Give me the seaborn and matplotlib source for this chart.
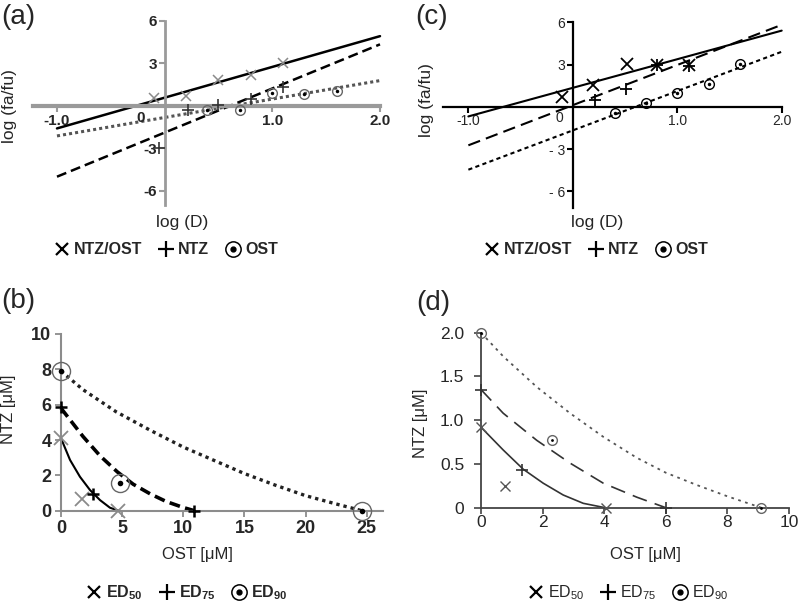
import matplotlib
matplotlib.use("Agg")
import matplotlib.pyplot as plt
import seaborn as sns
from matplotlib.lines import Line2D
from matplotlib.legend_handler import HandlerTuple

sns.set_theme(style="ticks")
plt.rcParams['font.family'] = ['Liberation Sans', 'DejaVu Sans']
plt.rcParams['mathtext.fontset'] = 'custom'
plt.rcParams['mathtext.rm'] = 'Liberation Sans'
plt.rcParams['mathtext.bf'] = 'Liberation Sans:bold'

# (a) median-effect plot, first set: fitted line ends and data points
a_fit_x = [-1.0, 2.0]
a_fit_combo = [-1.59, 4.93]
a_fit_ntz = [-5.0, 4.35]
a_fit_ost = [-2.12, 1.79]
a_combo_x = [-0.10, 0.20, 0.50, 0.80, 1.10]
a_combo_y = [0.53, 0.71, 1.84, 2.19, 3.05]
a_ntz_x = [-0.05, 0.22, 0.50, 0.80, 1.10]
a_ntz_y = [-3.0, -0.31, 0.05, 0.48, 1.36]
a_ost_x = [0.39, 0.70, 1.00, 1.29, 1.60]
a_ost_y = [-0.31, -0.31, 0.89, 0.86, 1.07]

# (c) median-effect plot, second set
c_fit_x = [-1.0, 2.0]
c_fit_combo = [-0.68, 5.41]
c_fit_ntz = [-2.73, 5.82]
c_fit_ost = [-4.46, 3.91]
c_combo_x = [-0.10, 0.19, 0.52, 0.81, 1.11]
c_combo_y = [0.69, 1.55, 3.01, 3.0, 3.0]
c_ntz_x = [0.21, 0.51, 0.81, 1.11]
c_ntz_y = [0.47, 1.28, 2.95, 2.9]
c_ost_x = [0.40, 0.70, 1.00, 1.30, 1.60]
c_ost_y = [-0.46, 0.30, 0.97, 1.62, 3.01]

# (b) isobologram, first set
b_ed50_x = [0.0, 1.7, 4.7]
b_ed50_y = [4.1, 0.66, 0.0]
b_ed75_x = [0.0, 2.6, 10.9]
b_ed75_y = [5.85, 0.95, 0.0]
b_ed90_x = [0.0, 4.8, 24.6]
b_ed90_y = [7.92, 1.55, 0.0]
b_curve50_x = [0.0, 0.74, 1.55, 2.37, 3.19, 4.0, 4.7]
b_curve50_y = [4.1, 2.87, 1.92, 1.17, 0.6, 0.17, 0.0]
b_curve75_x = [0.0, 1.8, 3.2, 4.6, 5.9, 7.3, 8.6, 10.0, 10.9]
b_curve75_y = [5.8, 4.2, 3.1, 2.2, 1.5, 0.95, 0.52, 0.18, 0.0]
b_curve90_x = [0.0, 1.8, 4.5, 7.3, 10.0, 12.5, 15.0, 17.5, 20.0, 22.5, 24.6]
b_curve90_y = [7.9, 6.85, 5.6, 4.55, 3.6, 2.85, 2.1, 1.45, 0.85, 0.38, 0.0]

# (d) isobologram, second set
d_ed50_x = [0.0, 0.78, 4.05]
d_ed50_y = [0.92, 0.25, 0.0]
d_ed75_x = [0.0, 1.32, 6.0]
d_ed75_y = [1.35, 0.43, 0.0]
d_ed90_x = [0.0, 2.30, 9.1]
d_ed90_y = [2.0, 0.77, 0.0]
d_curve50_x = [0.0, 0.72, 1.37, 2.02, 2.67, 3.32, 4.03]
d_curve50_y = [0.92, 0.66, 0.44, 0.28, 0.145, 0.05, 0.0]
d_curve75_x = [0.0, 0.72, 1.81, 2.89, 3.97, 5.06, 6.0]
d_curve75_y = [1.35, 1.08, 0.77, 0.51, 0.28, 0.12, 0.0]
d_curve90_x = [0.0, 0.72, 1.81, 2.89, 3.97, 5.06, 6.0, 7.0, 8.0, 9.1]
d_curve90_y = [2.0, 1.73, 1.38, 1.08, 0.81, 0.57, 0.4, 0.26, 0.13, 0.0]

W, H = 800, 603
fig = plt.figure(figsize=(W / 100, H / 100), dpi=100)


def px(x, y):
    return (x / W, 1 - y / H)


def box(x0, y0, x1, y1):
    return [x0 / W, 1 - y1 / H, (x1 - x0) / W, (y1 - y0) / H]


def line(ax, x, y, color, lw, ls):
    sns.lineplot(x=x, y=y, ax=ax, color=color, linewidth=lw, linestyle=ls,
                 estimator=None, sort=False, clip_on=False)


def ring_dot(ax, x, y, size, ring, dot):
    ax.plot(x, y, ls='none', marker='o', ms=size, mfc='none', mec=ring,
            mew=1.0, clip_on=False, zorder=5)
    ax.plot(x, y, ls='none', marker='o', ms=dot, mfc='black', mec='black',
            mew=0, clip_on=False, zorder=6)


def legend(labels, center, size, weight):
    handles = [
        Line2D([], [], ls='none', marker='x', ms=8, mew=1.6, color='black'),
        Line2D([], [], ls='none', marker='+', ms=11, mew=1.6, color='black'),
        (Line2D([], [], ls='none', marker='o', ms=11, mfc='none', mec='black', mew=1.1),
         Line2D([], [], ls='none', marker='o', ms=3.5, color='black')),
    ]
    fig.legend(handles, labels, loc='center', bbox_to_anchor=px(*center),
               ncol=3, frameon=False, handlelength=1.0, handletextpad=0.25,
               columnspacing=1.0, borderpad=0, borderaxespad=0,
               handler_map={tuple: HandlerTuple(ndivide=1)},
               prop={'size': size, 'weight': weight})


# ---------------- (a)
ax = fig.add_axes(box(33.3, 21, 380, 205))
ax.set_xlim(-1.22, 2.0)
ax.set_ylim(-7, 6)
line(ax, a_fit_x, a_fit_combo, 'black', 1.8, '-')
line(ax, a_fit_x, a_fit_ntz, 'black', 1.8, (0, (4, 2)))
line(ax, a_fit_x, a_fit_ost, '#555555', 2.2, (0, (1, 1)))
ax.plot(a_combo_x, a_combo_y, ls='none', marker='x', ms=7, mew=1.1, color='#8a8a8a', zorder=5)
ax.plot(a_ntz_x, a_ntz_y, ls='none', marker='+', ms=8, mew=1.2, color='#333333', zorder=5)
ring_dot(ax, a_ost_x, a_ost_y, 7, '#666666', 2.5)
for s in ['top', 'right']:
    ax.spines[s].set_visible(False)
ax.spines['left'].set_position(('data', 0))
ax.spines['bottom'].set_position(('data', 0))
ax.spines['bottom'].set_color('#9a9a9a')
ax.spines['bottom'].set_linewidth(3)
ax.spines['left'].set_color('#9a9a9a')
ax.spines['left'].set_linewidth(2)
ax.set_xticks([-1, 1, 2], ['-1.0', '1.0', '2.0'], fontweight='bold')
ax.set_yticks([-6, -3, 3, 6], ['-6', '-3', '3', '6'], fontweight='bold')
ax.tick_params(length=4, width=1.5, color='#9a9a9a', labelsize=11, pad=1.5)
ax.text(-0.22, -0.85, '0', ha='center', va='center', fontsize=11, fontweight='bold')
ax.set_xlabel('log (D)', fontsize=12.5)
ax.xaxis.set_label_coords(*px(182, 222), transform=fig.transFigure)
ax.xaxis.label.set_va('center')
ax.set_ylabel('log (fa/fu)', fontsize=12.5)
ax.yaxis.set_label_coords(*px(10, 106), transform=fig.transFigure)
ax.yaxis.label.set_va('center')
fig.text(*px(18, 17), '(a)', fontsize=20, ha='center', va='center')
legend(['NTZ/OST', 'NTZ', 'OST'], (166, 250), 11.5, 'bold')

# ---------------- (c)
ax = fig.add_axes(box(443.3, 22.3, 781.7, 208.3))
ax.set_xlim(-1.24, 2.0)
ax.set_ylim(-7.2, 6)
line(ax, c_fit_x, c_fit_combo, 'black', 1.5, '-')
line(ax, c_fit_x, c_fit_ntz, 'black', 1.5, (0, (6, 3)))
line(ax, c_fit_x, c_fit_ost, 'black', 1.5, (0, (2, 1.6)))
ax.plot(c_combo_x, c_combo_y, ls='none', marker='x', ms=8, mew=1.3, color='black', zorder=5)
ax.plot(c_ntz_x, c_ntz_y, ls='none', marker='+', ms=8, mew=1.3, color='black', zorder=5)
ring_dot(ax, c_ost_x, c_ost_y, 7, 'black', 2.5)
for s in ['top', 'right']:
    ax.spines[s].set_visible(False)
ax.spines['left'].set_position(('data', 0))
ax.spines['bottom'].set_position(('data', 0))
for s in ['left', 'bottom']:
    ax.spines[s].set_color('black')
    ax.spines[s].set_linewidth(1.6)
ax.set_xticks([-1, 1, 2], ['-1.0', '1.0', '2.0'])
ax.set_yticks([-6, -3, 3, 6], ['- 6', '- 3', '3', '6'])
ax.tick_params(length=4, width=1.5, color='black', labelsize=10, pad=1.5)
ax.text(-0.13, -0.8, '0', ha='center', va='center', fontsize=10)
ax.set_xlabel('log (D)', fontsize=12.5)
ax.xaxis.set_label_coords(*px(597, 223), transform=fig.transFigure)
ax.xaxis.label.set_va('center')
ax.set_ylabel('log (fa/fu)', fontsize=12.5)
ax.yaxis.set_label_coords(*px(427, 100), transform=fig.transFigure)
ax.yaxis.label.set_va('center')
fig.text(*px(432, 17), '(c)', fontsize=20, ha='center', va='center')
legend(['NTZ/OST', 'NTZ', 'OST'], (596, 250), 11.5, 'bold')

# ---------------- (b)
ax = fig.add_axes(box(61, 334, 382.7, 510.7))
ax.set_xlim(0, 26.3)
ax.set_ylim(0, 10)
line(ax, b_curve50_x, b_curve50_y, 'black', 1.5, '-')
line(ax, b_curve75_x, b_curve75_y, 'black', 2.6, (0, (3, 1.5)))
line(ax, b_curve90_x, b_curve90_y, '#222222', 2.4, (0, (1, 1.2)))
ax.plot(b_ed50_x, b_ed50_y, ls='none', marker='x', ms=10, mew=1.3, color='#8a8a8a', zorder=5, clip_on=False)
ax.plot(b_ed75_x, b_ed75_y, ls='none', marker='+', ms=9, mew=1.8, color='black', zorder=5, clip_on=False)
ring_dot(ax, b_ed90_x, b_ed90_y, 13, '#666666', 4)
for s in ['top', 'right']:
    ax.spines[s].set_visible(False)
for s in ['left', 'bottom']:
    ax.spines[s].set_color('#8c8c8c')
    ax.spines[s].set_linewidth(1.5)
ax.set_xticks([0, 5, 10, 15, 20, 25], ['0', '5', '10', '15', '20', '25'], fontweight='bold')
ax.set_yticks([0, 2, 4, 6, 8, 10], ['0', '2', '4', '6', '8', '10'], fontweight='bold')
ax.tick_params(length=4.5, width=1.3, color='#8c8c8c', labelsize=13, pad=2.5)
ax.set_xlabel('OST [μM]', fontsize=12)
ax.xaxis.set_label_coords(*px(197, 555), transform=fig.transFigure)
ax.xaxis.label.set_va('center')
ax.set_ylabel('NTZ [μM]', fontsize=12)
ax.yaxis.set_label_coords(*px(9, 409), transform=fig.transFigure)
ax.yaxis.label.set_va('center')
fig.text(*px(18, 301), '(b)', fontsize=20, ha='center', va='center')
legend(['ED$_{\\mathbf{50}}$', 'ED$_{\\mathbf{75}}$', 'ED$_{\\mathbf{90}}$'], (187, 593), 11.5, 'bold')

# ---------------- (d)
ax = fig.add_axes(box(481, 332.7, 789, 507.7))
ax.set_xlim(0, 10)
ax.set_ylim(0, 2)
line(ax, d_curve50_x, d_curve50_y, '#333333', 1.2, '-')
line(ax, d_curve75_x, d_curve75_y, '#333333', 1.2, (0, (9, 5)))
line(ax, d_curve90_x, d_curve90_y, '#555555', 1.3, (0, (1.5, 2.5)))
ax.plot(d_ed50_x, d_ed50_y, ls='none', marker='x', ms=7, mew=1.0, color='#555555', zorder=5, clip_on=False)
ax.plot(d_ed75_x, d_ed75_y, ls='none', marker='+', ms=8, mew=1.2, color='#333333', zorder=5, clip_on=False)
ring_dot(ax, d_ed90_x, d_ed90_y, 7, '#666666', 2)
for s in ['top', 'right']:
    ax.spines[s].set_visible(False)
for s in ['left', 'bottom']:
    ax.spines[s].set_color('#444444')
    ax.spines[s].set_linewidth(1.3)
ax.set_xticks([0, 2, 4, 6, 8, 10], ['0', '2', '4', '6', '8', '10'])
ax.set_yticks([0, 0.5, 1.0, 1.5, 2.0], ['0', '0.5', '1.0', '1.5', '2.0'])
ax.tick_params(axis='x', length=4, width=1.2, color='#444444', labelsize=12.5, pad=1)
ax.tick_params(axis='y', length=5, width=1.2, color='#444444', labelsize=12.5, pad=7)
ax.set_xlabel('OST [μM]', fontsize=12)
ax.xaxis.set_label_coords(*px(645, 555), transform=fig.transFigure)
ax.xaxis.label.set_va('center')
ax.set_ylabel('NTZ [μM]', fontsize=12)
ax.yaxis.set_label_coords(*px(421, 423), transform=fig.transFigure)
ax.yaxis.label.set_va('center')
fig.text(*px(433, 303), '(d)', fontsize=20, ha='center', va='center')
legend(['ED$_{50}$', 'ED$_{75}$', 'ED$_{90}$'], (628, 593), 11.5, 'normal')

fig.savefig('out.png', dpi=100)
